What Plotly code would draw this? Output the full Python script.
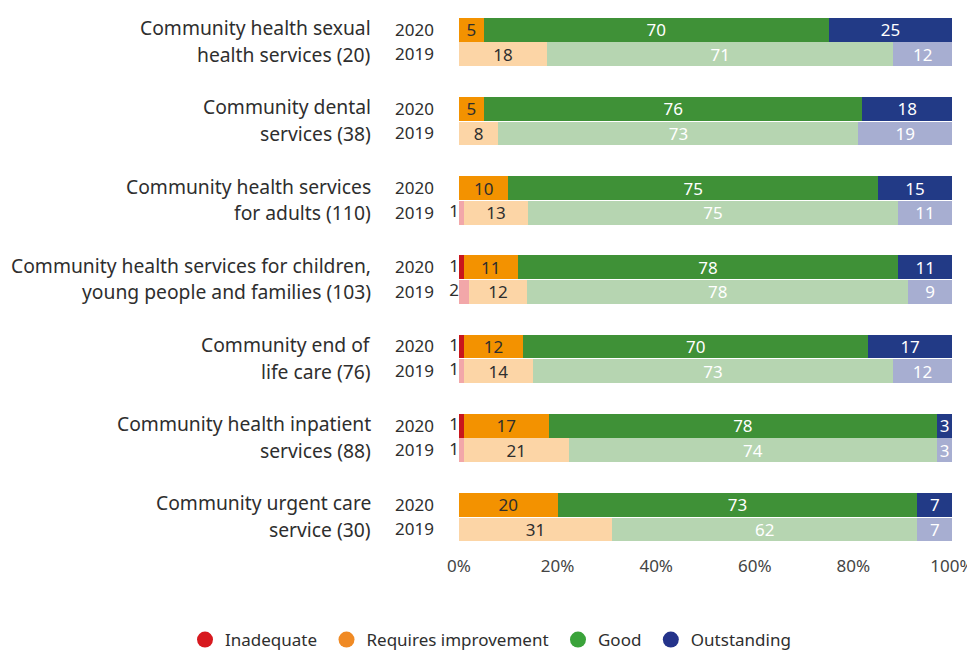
import plotly.graph_objects as go

# ---------------- data ----------------
name_line1 = [
    "Community health sexual",
    "Community dental",
    "Community health services",
    "Community health services for children,",
    "Community end of",
    "Community health inpatient",
    "Community urgent care",
]
name_line2 = [
    "health services (20)",
    "services (38)",
    "for adults (110)",
    "young people and families (103)",
    "life care (76)",
    "services (88)",
    "service (30)",
]
years = ["2020", "2019"]
ratings = ["Inadequate", "Requires improvement", "Good", "Outstanding"]

inadequate_2020 = [0, 0, 0, 1, 1, 1, 0]
requires_2020 = [5, 5, 10, 11, 12, 17, 20]
good_2020 = [70, 76, 75, 78, 70, 78, 73]
outstanding_2020 = [25, 18, 15, 11, 17, 3, 7]

inadequate_2019 = [0, 0, 1, 2, 1, 1, 0]
requires_2019 = [18, 8, 13, 12, 14, 21, 31]
good_2019 = [71, 73, 75, 78, 73, 74, 62]
outstanding_2019 = [12, 19, 11, 9, 12, 3, 7]

x_ticks = [0, 20, 40, 60, 80, 100]
x_tick_labels = ["0%", "20%", "40%", "60%", "80%", "100%"]

# ---------------- styles ----------------
FONT = "Noto Sans"
TXT = "#2e2e2e"
colors = {
    "2020": ["#c8161d", "#f39200", "#3f9137", "#223a86"],
    "2019": ["#f2a7a9", "#fcd5a6", "#b6d5b1", "#a7aed1"],
}
text_colors = [TXT, TXT, "white", "white"]
legend_colors = ["#d7191f", "#f08a24", "#3aa33a", "#24338a"]
legend_pad = ["\u00a0", "\u00a0", "\u00a0", ""]

series = {
    "2020": [inadequate_2020, requires_2020, good_2020, outstanding_2020],
    "2019": [inadequate_2019, requires_2019, good_2019, outstanding_2019],
}
offsets = {"2020": -0.155, "2019": 0.155}
bar_w = 0.3
n = len(name_line1)

# page body has an 8px margin, so the figure is drawn 8px in from the corner
W, H = 967, 644
L, R, T, B = 451, 23, 2, 102
PW = W - L - R
PH = H - T - B

fig = go.Figure()

for yr in years:
    ypos = [i + offsets[yr] for i in range(n)]
    for k, rating in enumerate(ratings):
        vals = series[yr][k]
        if k == 0:
            texts = ["" for v in vals]
        else:
            texts = [str(v) if v > 0 else "" for v in vals]
        fig.add_trace(go.Bar(
            x=vals, y=ypos, orientation="h", width=bar_w,
            marker=dict(color=colors[yr][k], line=dict(width=0)),
            text=texts, textposition="inside", insidetextanchor="middle",
            textangle=0, constraintext="none", cliponaxis=False,
            textfont=dict(family=FONT, size=17, color=text_colors[k]),
            showlegend=False, hoverinfo="skip",
        ))
    # inadequate labels to the left of the bar
    inad = series[yr][0]
    fig.add_trace(go.Scatter(
        x=[0 for v in inad if v > 0],
        y=[i + offsets[yr] for i, v in enumerate(inad) if v > 0],
        text=[str(v) for v in inad if v > 0],
        mode="text", textposition="middle left",
        textfont=dict(family=FONT, size=17, color=TXT),
        showlegend=False, hoverinfo="skip", cliponaxis=False,
    ))

# legend entries with circle markers
for k, rating in enumerate(ratings):
    fig.add_trace(go.Scatter(
        x=[None], y=[None], mode="markers", name=rating + legend_pad[k],
        marker=dict(symbol="circle", size=17, color=legend_colors[k]),
    ))

# category names
annotations = []
NAME_X = (365 - L) / PW
for i in range(n):
    annotations.append(dict(
        x=NAME_X, xref="paper", y=i + offsets["2020"], yref="y", yshift=2,
        text=name_line1[i], showarrow=False, xanchor="right", yanchor="middle",
        font=dict(family=FONT, size=19.3, color=TXT),
    ))
    annotations.append(dict(
        x=NAME_X, xref="paper", y=i + offsets["2019"], yref="y",
        text=name_line2[i], showarrow=False, xanchor="right", yanchor="middle",
        font=dict(family=FONT, size=19.3, color=TXT),
    ))

tickvals = []
ticktext = []
for i in range(n):
    for yr in years:
        tickvals.append(i + offsets[yr])
        ticktext.append(yr)

fig.update_layout(
    width=W, height=H,
    margin=dict(l=L, r=R, t=T, b=B, autoexpand=False),
    paper_bgcolor="white", plot_bgcolor="white",
    barmode="stack", barnorm="percent",
    font=dict(family=FONT, size=17, color=TXT),
    uniformtext=dict(minsize=17, mode="show"),
    annotations=annotations,
    xaxis=dict(
        range=[0, 100.0001], tickvals=x_ticks, ticktext=x_tick_labels,
        showgrid=False, zeroline=False, showline=False, ticks="",
        ticklabelstandoff=4, automargin=False,
        tickfont=dict(family=FONT, size=17, color="#444444"),
        fixedrange=True,
    ),
    yaxis=dict(
        range=[6.414, -0.404], tickvals=tickvals, ticktext=ticktext,
        showgrid=False, zeroline=False, showline=False, ticks="",
        ticklabelstandoff=24, automargin=False,
        tickfont=dict(family=FONT, size=17, color=TXT),
        fixedrange=True,
    ),
    legend=dict(
        orientation="h", traceorder="normal",
        xref="paper", yref="paper",
        x=(177 - L) / PW, y=(T + PH - 632) / PH,
        xanchor="left", yanchor="middle",
        font=dict(family=FONT, size=17, color=TXT),
    ),
    showlegend=True,
)

fig.write_html("out.html")
